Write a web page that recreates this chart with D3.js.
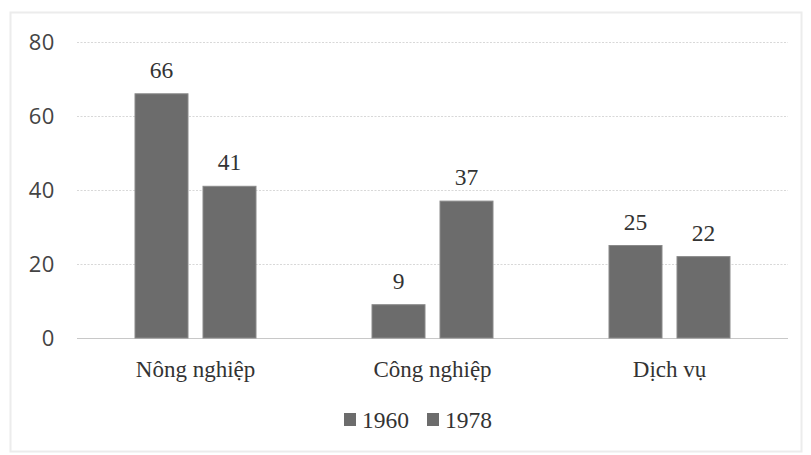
<!DOCTYPE html>
<html>
<head>
<meta charset="utf-8">
<script src="https://cdn.jsdelivr.net/npm/d3@7"></script>
<style>
  html, body { margin: 0; padding: 0; background: #fff; }
  svg { display: block; }
</style>
</head>
<body>
<svg id="chart" width="811" height="455"></svg>
<script>
// Cơ cấu kinh tế theo ngành (%)
const categories = ["Nông nghiệp", "Công nghiệp", "Dịch vụ"];
const seriesNames = ["1960", "1978"];
const values1960 = [66, 9, 25];
const values1978 = [41, 37, 22];
const yTicks = [0, 20, 40, 60, 80];

const seriesValues = [values1960, values1978];
const barColor = "#6c6c6c";
const SERIF = "Liberation Serif";
const SANS = "Open Sans";

const svg = d3.select("#chart");
const W = 811, H = 455;

// outer frame
svg.append("rect")
  .attr("x", 10.5).attr("y", 12.5)
  .attr("width", W - 20).attr("height", H - 16)
  .attr("fill", "#fff")
  .attr("stroke", "#ececec").attr("stroke-width", 2);

const plot = { left: 77, right: 788, top: 42, bottom: 338 };

const x = d3.scaleBand()
  .domain(categories)
  .range([plot.left, plot.right])
  .paddingInner(0).paddingOuter(0);

const xSub = d3.scaleBand()
  .domain(seriesNames)
  .range([0, 121])
  .paddingInner(15 / 68);

const y = d3.scaleLinear()
  .domain([0, 80])
  .range([plot.bottom, plot.top]);

// gridlines
const grid = svg.append("g")
  .attr("transform", `translate(${plot.left},0)`)
  .call(d3.axisLeft(y).tickValues(yTicks).tickSize(-(plot.right - plot.left)).tickFormat(""));
grid.select(".domain").remove();
grid.selectAll(".tick line")
  .attr("stroke", d => d === 0 ? "#c8c8c8" : "#d8d8d8")
  .attr("stroke-width", 1.2)
  .attr("stroke-dasharray", d => d === 0 ? null : "2,1.5");

// y tick labels
const yAxis = svg.append("g")
  .attr("transform", `translate(${plot.left - 22},0)`)
  .call(d3.axisLeft(y).tickValues(yTicks).tickSize(0).tickPadding(0))
  .attr("font-family", SANS)
  .attr("font-size", 22);
yAxis.select(".domain").remove();
yAxis.selectAll("text")
  .attr("fill", "#444")
  .attr("letter-spacing", 0.6)
  .attr("dy", "0.35em");

// bars and value labels
const groups = svg.append("g")
  .attr("font-family", SERIF)
  .attr("font-size", 23.5)
  .selectAll("g")
  .data(categories)
  .join("g")
  .attr("transform", d => `translate(${x(d) + (x.bandwidth() - 121) / 2},0)`);

groups.each(function(cat, ci) {
  const g = d3.select(this);
  seriesNames.forEach((s, si) => {
    const v = seriesValues[si][ci];
    g.append("rect")
      .attr("x", xSub(s))
      .attr("y", y(v))
      .attr("width", xSub.bandwidth())
      .attr("height", y(0) - y(v))
      .attr("fill", barColor)
      .attr("stroke", "#8a8a8a")
      .attr("stroke-width", 1);
    g.append("text")
      .attr("x", xSub(s) + xSub.bandwidth() / 2)
      .attr("y", y(v) - 16)
      .attr("text-anchor", "middle")
      .attr("fill", "#333")
      .text(v);
  });
});

// category labels
const xAxis = svg.append("g")
  .attr("transform", `translate(0,${plot.bottom})`)
  .call(d3.axisBottom(x).tickSize(0).tickPadding(0))
  .attr("font-family", SERIF)
  .attr("font-size", 23);
xAxis.select(".domain").remove();
xAxis.selectAll("text")
  .attr("fill", "#333")
  .attr("dy", 0)
  .attr("y", 39);

// legend
const legend = svg.append("g")
  .attr("transform", "translate(344,421)")
  .attr("font-family", SERIF)
  .attr("font-size", 23.5);
const legendX = [0, 83];
seriesNames.forEach((s, i) => {
  const lg = legend.append("g").attr("transform", `translate(${legendX[i]},0)`);
  lg.append("rect")
    .attr("x", 0).attr("y", -8)
    .attr("width", 12).attr("height", 13)
    .attr("fill", barColor);
  lg.append("text")
    .attr("x", 18).attr("y", 7)
    .attr("fill", "#333")
    .text(s);
});
</script>
</body>
</html>
